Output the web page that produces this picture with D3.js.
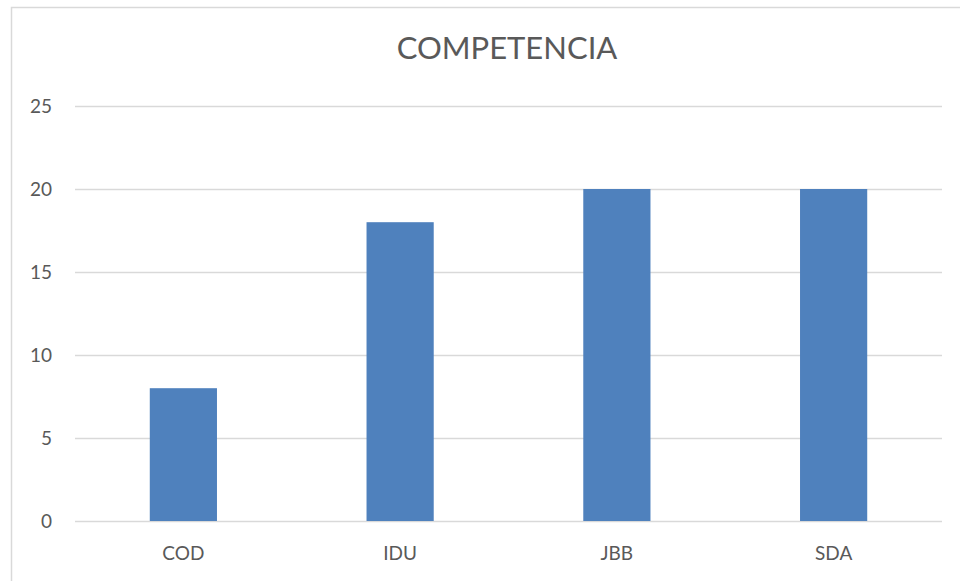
<!DOCTYPE html>
<html>
<head>
<meta charset="utf-8">
<script src="https://cdn.jsdelivr.net/npm/d3@7"></script>
<style>
  body { margin: 0; background: #fff; }
  text { font-family: Lato, "Open Sans", sans-serif; fill: #595959; }
</style>
</head>
<body>
<svg id="chart"></svg>
<script>
// chart data
var categories = ["COD", "IDU", "JBB", "SDA"];
var values = [8, 18, 20, 20];
var yTicks = [0, 5, 10, 15, 20, 25];
var title = "COMPETENCIA";

var width = 960,
    height = 581,
    margin = {top: 106, right: 18, bottom: 60, left: 75};

var svg = d3.select("#chart")
    .attr("width", width)
    .attr("height", height);

// outer chart border (only left and top are visible in frame)
svg.append("rect")
    .attr("x", 11.5)
    .attr("y", 7.5)
    .attr("width", width + 20)
    .attr("height", height + 20)
    .style("fill", "none")
    .style("stroke", "#d9d9d9")
    .style("stroke-width", "1.5px");

var x = d3.scaleBand()
    .domain(categories)
    .range([margin.left, width - margin.right])
    .paddingInner(0.69)
    .paddingOuter(0.345);

var y = d3.scaleLinear()
    .domain([0, 25])
    .range([height - margin.bottom, margin.top]);

// gridlines
svg.append("g")
  .selectAll("line")
  .data(yTicks)
  .enter().append("line")
    .attr("x1", margin.left)
    .attr("x2", width - margin.right)
    .attr("y1", function(d) { return Math.round(y(d)) + 0.5; })
    .attr("y2", function(d) { return Math.round(y(d)) + 0.5; })
    .style("stroke", "#d9d9d9")
    .style("stroke-width", "1.5px");

// y tick labels
svg.append("g")
  .selectAll("text")
  .data(yTicks)
  .enter().append("text")
    .attr("x", 52)
    .attr("y", function(d) { return y(d); })
    .attr("dy", "0.35em")
    .style("text-anchor", "end")
    .style("font-size", "19px")
    .text(function(d) { return d; });

// bars
svg.append("g")
  .selectAll("rect")
  .data(values)
  .enter().append("rect")
    .attr("x", function(d, i) { return x(categories[i]); })
    .attr("y", function(d) { return y(d); })
    .attr("width", x.bandwidth())
    .attr("height", function(d) { return y(0) - y(d); })
    .style("fill", "#4f81bd");

// category labels
svg.append("g")
  .selectAll("text")
  .data(categories)
  .enter().append("text")
    .attr("x", function(d) { return x(d) + x.bandwidth() / 2; })
    .attr("y", 560)
    .style("text-anchor", "middle")
    .style("font-size", "19px")
    .text(function(d) { return d; });

// title
svg.append("text")
    .attr("x", 507)
    .attr("y", 59)
    .style("text-anchor", "middle")
    .style("font-size", "31px")
    .text(title);
</script>
</body>
</html>
